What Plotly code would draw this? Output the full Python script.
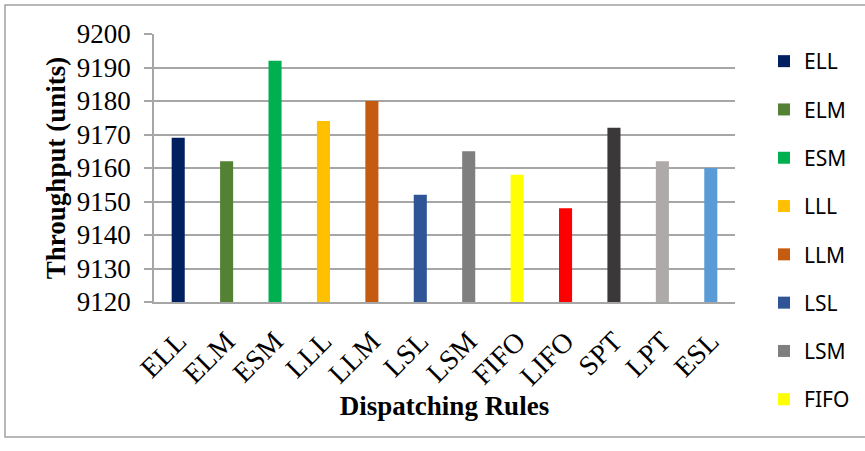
import plotly.graph_objects as go

# Throughput per dispatching rule
rules = ["ELL", "ELM", "ESM", "LLL", "LLM", "LSL", "LSM", "FIFO", "LIFO", "SPT", "LPT", "ESL"]
throughput = [9169, 9162, 9192, 9174, 9180, 9152, 9165, 9158, 9148, 9172, 9162, 9160]
colors = ["#002060", "#548235", "#00B050", "#FFC000", "#C55A11", "#2F5597",
          "#7F7F7F", "#FFFF00", "#FF0000", "#3A3838", "#AEAAAA", "#5B9BD5"]
legend_count = 8  # only the first eight rules fit in the legend column

W, H = 865, 451
L, R, T, B = 154, 130, 34, 149
pw, ph = W - L - R, H - T - B


def px_x(x):
    return (x - L) / pw


def px_y(y):
    return (H - B - y) / ph


fig = go.Figure()
for i, (name, val, col) in enumerate(zip(rules, throughput, colors)):
    fig.add_trace(go.Bar(
        x=[name], y=[val], name=name, marker_color=col,
        marker_line_width=0, width=0.27,
        showlegend=i < legend_count, legendgroup=name,
    ))

serif = "Liberation Serif, Times New Roman, serif"
grid = "#A6A6A6"

fig.update_layout(
    width=W, height=H,
    margin=dict(l=L, r=R, t=T, b=B, autoexpand=False),
    paper_bgcolor="white", plot_bgcolor="white",
    barmode="overlay",
    font=dict(family=serif, color="black"),
    showlegend=True,
    legend=dict(
        x=px_x(764), xanchor="left", y=px_y(41), yanchor="top",
        font=dict(family="Noto Sans", size=21, color="black"),
        tracegroupgap=18, itemwidth=30, bgcolor="rgba(0,0,0,0)",
        maxheight=440,
    ),
    xaxis=dict(
        categoryorder="array", categoryarray=rules,
        tickangle=-45, tickfont=dict(family=serif, size=28),
        showgrid=False, showline=True, linecolor=grid, linewidth=1.5,
        ticks="", ticklabelstandoff=10,
        title=dict(text="<b>Dispatching Rules</b>",
                   font=dict(family=serif, size=27), standoff=5),
    ),
    yaxis=dict(
        range=[9120, 9200], dtick=10, tickfont=dict(family=serif, size=27),
        showgrid=True, gridcolor=grid, gridwidth=1.5,
        showline=True, linecolor=grid, linewidth=1.5,
        ticks="outside", ticklen=8, tickcolor=grid, tickwidth=1.5,
        ticklabelstandoff=8, zeroline=False,
        title=dict(text="<b>Throughput (units)</b>",
                   font=dict(family=serif, size=27), standoff=3),
    ),
    shapes=[dict(
        type="rect", xref="paper", yref="paper",
        x0=px_x(5), x1=px_x(880), y0=px_y(437), y1=px_y(5),
        line=dict(color="#A0A0A0", width=1.5), layer="below",
    )],
)

fig.write_html("out.html")
